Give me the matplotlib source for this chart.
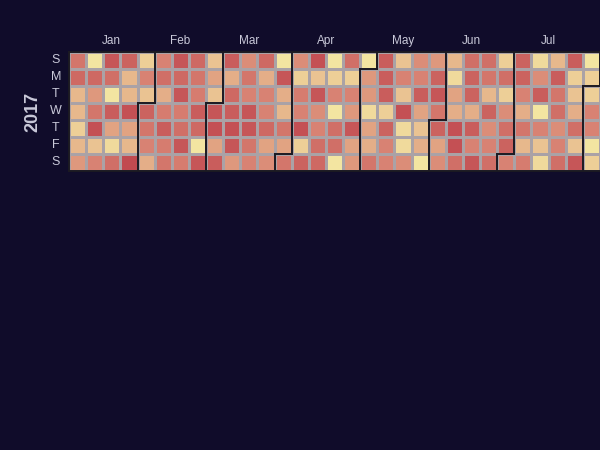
import matplotlib
matplotlib.use("Agg")
import matplotlib.pyplot as plt
import numpy as np
import pandas as pd
from matplotlib.colors import LinearSegmentedColormap

plt.rcParams['font.family'] = ['Liberation Sans', 'DejaVu Sans']

year = 2017
# daily values (Jan 1 .. Aug 5)
jan = [600, 700, 250, 250, 150, 250, 400,
       50, 700, 400, 600, 900, 200, 500,
       850, 650, 50, 800, 350, 100, 650,
       750, 250, 250, 900, 350, 250, 950,
       150, 500, 200]
feb = [750, 600, 500, 300,
       500, 650, 300, 550, 800, 550, 600,
       850, 700, 850, 550, 650, 850, 550,
       700, 600, 550, 800, 700, 50, 850,
       200, 350, 200]
mar = [850, 900, 350, 800,
       800, 300, 700, 800, 900, 850, 400,
       450, 600, 500, 850, 850, 600, 500,
       700, 300, 500, 500, 700, 350, 450,
       50, 850, 300, 250, 600, 350]
apr = [600,
       450, 150, 550, 500, 900, 150, 750,
       900, 200, 850, 450, 500, 650, 700,
       50, 150, 500, 50, 650, 650, 50,
       650, 150, 500, 400, 850, 350, 400,
       50]
may = [400, 400, 100, 350, 300, 600,
       800, 800, 800, 150, 750, 500, 500,
       200, 500, 200, 900, 100, 100, 450,
       450, 500, 800, 350, 200, 300, 50,
       400, 750, 850, 600]
jun = [750, 350, 450,
       250, 100, 350, 300, 900, 900, 650,
       650, 750, 750, 300, 800, 500, 850,
       650, 600, 250, 750, 450, 500, 650,
       150, 650, 150, 450, 650, 750]
jul = [500,
       750, 750, 500, 300, 600, 250, 550,
       100, 450, 800, 50, 500, 200, 100,
       250, 800, 600, 650, 450, 500, 650,
       800, 150, 200, 300, 650, 200, 850,
       50, 150]
aug = [150, 500, 500, 50, 150]

month_names = ['Jan', 'Feb', 'Mar', 'Apr', 'May', 'Jun', 'Jul']
day_names = ['S', 'M', 'T', 'W', 'T', 'F', 'S']

values = jan + feb + mar + apr + may + jun + jul + aug
dates = pd.date_range(f'{year}-01-01', periods=len(values), freq='D')
start = pd.Timestamp(f'{year}-01-01')
offset = (start.dayofweek + 1) % 7  # Sunday = 0

def pos(d):
    n = (d - start).days + offset
    return n // 7, n % 7

ncols = pos(dates[-1])[0] + 1
grid = np.full((7, ncols), np.nan)
for d, v in zip(dates, values):
    c, r = pos(d)
    grid[r, c] = v

bg = '#100c2a'
txt = '#c9c9d9'
cmap = LinearSegmentedColormap.from_list('ec', ['#f6efa6', '#d88273', '#bf444c'])

fig = plt.figure(figsize=(6, 4.5), dpi=100, facecolor=bg)
W, H = 600, 450
x0, y0, x1, y1 = 69, 51.7, 600, 171
ax = fig.add_axes([x0 / W, 1 - y1 / H, (x1 - x0) / W, (y1 - y0) / H])
ax.set_facecolor(bg)
ax.pcolormesh(np.arange(ncols + 1), np.arange(8), grid, cmap=cmap, vmin=0, vmax=1000,
              edgecolors='#aaa2a6', linewidth=1.0)
ax.set_xlim(0, 31)
ax.set_ylim(7, 0)
ax.axis('off')

lc = '#1c1a22'
lw = 1.4
kw = dict(color=lc, lw=lw, clip_on=False, solid_capstyle='projecting')
# outer edges
ax.plot([0, ncols + 1], [0, 0], **kw)
ax.plot([0, ncols + 1], [7, 7], **kw)
ax.plot([0, 0], [0, 7], **kw)
# month boundaries
for m in range(2, 9):
    d = pd.Timestamp(year=year, month=m, day=1)
    c, r = pos(d)
    if r == 0:
        ax.plot([c, c], [0, 7], **kw)
    else:
        ax.plot([c, c], [r, 7], **kw)
        ax.plot([c, c + 1], [r, r], **kw)
        ax.plot([c + 1, c + 1], [0, r], **kw)

# month labels
for i, name in enumerate(month_names):
    first = pd.Timestamp(year=year, month=i + 1, day=1)
    last = first + pd.offsets.MonthEnd(0)
    c0 = pos(first)[0]
    c1 = pos(last)[0] + 1
    ax.text((c0 + c1) / 2, -0.63, name, ha='center', va='center', color=txt, fontsize=8.5)

# day labels
for r, name in enumerate(day_names):
    ax.text(-0.76, r + 0.5, name, ha='center', va='center', color=txt, fontsize=9)

fig.text(33 / W, 1 - 112 / H, str(year), rotation=90, ha='center', va='center',
         color=txt, fontsize=13, fontweight='bold')

fig.savefig('out.png', dpi=100, facecolor=bg)
